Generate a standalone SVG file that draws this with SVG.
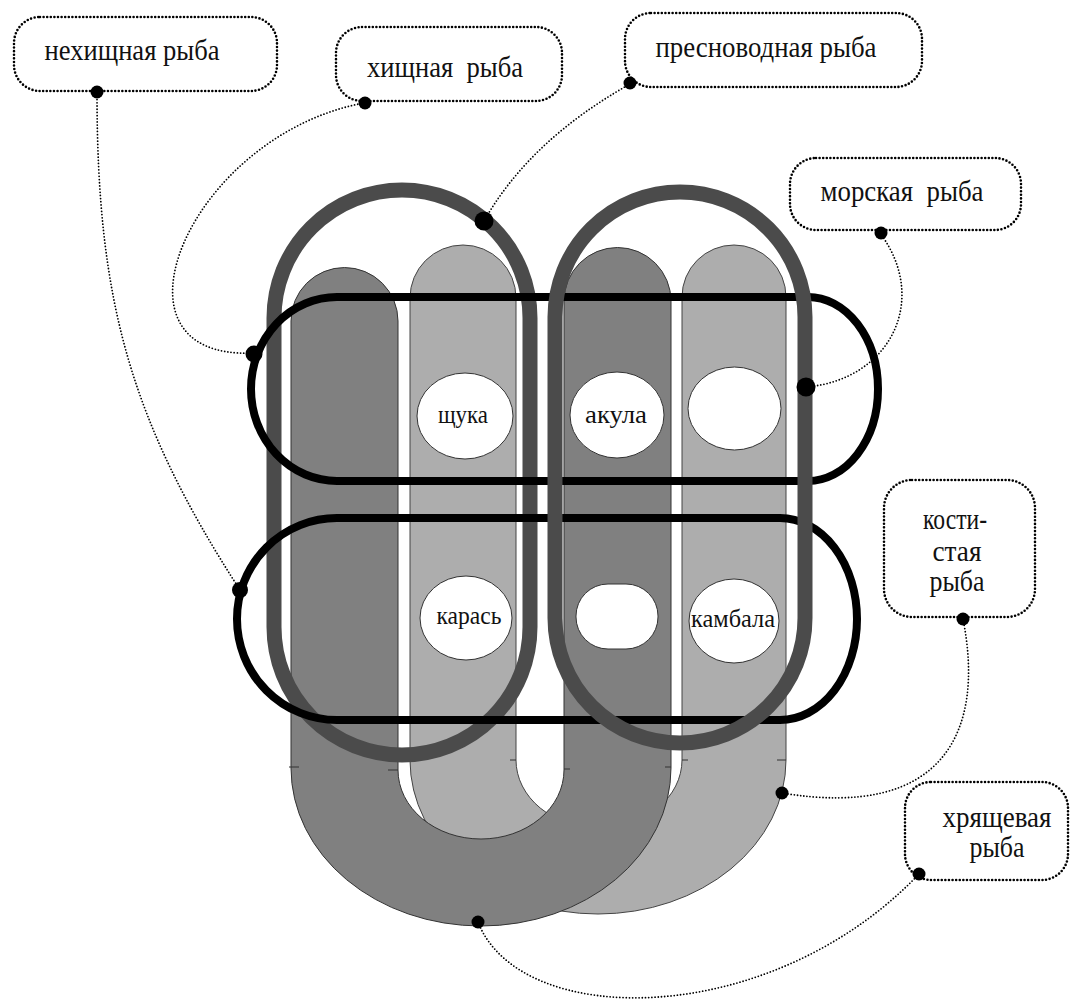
<svg xmlns="http://www.w3.org/2000/svg" width="1084" height="1004" viewBox="0 0 1084 1004">
  <style>
    .txt { font-family: "Liberation Serif", "Times New Roman", serif; fill: #111; }
    .lbl { font-size: 29px; text-anchor: middle; white-space: pre; }
    .in { font-size: 26px; text-anchor: middle; }
    .box { fill: #fff; stroke: #000; stroke-width: 2.6; stroke-dasharray: 0 3.6; stroke-linecap: round; }
    .link { fill: none; stroke: #000; stroke-width: 1.8; stroke-dasharray: 0 3.2; stroke-linecap: round; }
    .darkU { fill: #808080; stroke: #333; stroke-width: 1; }
    .lightU { fill: #adadad; stroke: #444; stroke-width: 1; }
    .hole { fill: #fff; stroke: #333; stroke-width: 1; }
    .ring { fill: none; stroke: #4b4b4b; stroke-width: 15; }
    .band { fill: none; stroke: #000; stroke-width: 8; }
    .tick { stroke: #333; stroke-width: 1; }
  </style>

  <!-- light U -->
  <g id="light-u">
    <path class="lightU" d="M410,298 A53,53 0 0 1 516,298 V760 A83,68 0 0 0 682,760 V297 A52,52 0 0 1 786,297 V760 A188,154 0 0 1 410,760 Z"/>
    <line class="tick" x1="510" y1="760" x2="516" y2="760"/>
    <line class="tick" x1="682" y1="760" x2="688" y2="760"/>
    <line class="tick" x1="777" y1="760" x2="786" y2="760"/>
  </g>

  <!-- dark U -->
  <g id="dark-u">
    <path class="darkU" d="M291,321 A53.5,53.5 0 0 1 398,321 V770 A83,69 0 0 0 564,770 V301 A53.5,53.5 0 0 1 671,301 V768 A190,158 0 0 1 291,768 Z"/>
    <line class="tick" x1="289" y1="767" x2="299" y2="767"/>
    <line class="tick" x1="388" y1="770" x2="398" y2="770"/>
    <line class="tick" x1="564" y1="769" x2="570" y2="769"/>
    <line class="tick" x1="665" y1="767" x2="671" y2="767"/>
  </g>

  <!-- fish cells -->
  <g id="cell-shchuka">
    <ellipse class="hole" cx="465" cy="416" rx="48" ry="43"/>
    <text class="txt in" x="463" y="423" textLength="50" lengthAdjust="spacingAndGlyphs">щука</text>
  </g>
  <g id="cell-akula">
    <ellipse class="hole" cx="617" cy="415" rx="47" ry="43"/>
    <text class="txt in" x="616" y="423" textLength="62" lengthAdjust="spacingAndGlyphs">акула</text>
  </g>
  <g id="cell-top-right">
    <ellipse class="hole" cx="734.5" cy="408.5" rx="46.5" ry="41.5"/>
  </g>
  <g id="cell-karas">
    <ellipse class="hole" cx="466" cy="618" rx="46" ry="42"/>
    <text class="txt in" x="469" y="624" textLength="65" lengthAdjust="spacingAndGlyphs">карась</text>
  </g>
  <g id="cell-bottom-mid">
    <rect class="hole" x="576" y="584" width="82" height="65" rx="32" ry="32"/>
  </g>
  <g id="cell-kambala">
    <ellipse class="hole" cx="734" cy="621" rx="45" ry="42"/>
    <text class="txt in" x="733" y="627" textLength="84" lengthAdjust="spacingAndGlyphs">камбала</text>
  </g>

  <!-- grey ring: freshwater (sits under the black bands) -->
  <g id="ring-fresh"><rect class="ring" x="274" y="190" width="256" height="565" rx="128" ry="128"/></g>

  <!-- black bands: predatory (top) and non-predatory (bottom) -->
  <g id="band-predatory"><path class="band" d="M337,297 H808 A70,92 0 0 1 808,481 H337 A86,92 0 0 1 337,297 Z"/></g>
  <g id="band-peaceful"><path class="band" d="M337,518 H780 A77,101 0 0 1 780,720 H337 A100,101 0 0 1 337,518 Z"/></g>

  <!-- grey ring: sea (sits over the black bands) -->
  <g id="ring-sea"><rect class="ring" x="555" y="192" width="250" height="551" rx="125" ry="125"/></g>

  <!-- callout leaders -->
  <g id="connectors">
    <path class="link" d="M97,93 C97,300 130,420 240,590"/>
    <path class="link" d="M364,103 C190,135 95,360 253,353"/>
    <path class="link" d="M630,84 Q530,140 484,221"/>
    <path class="link" d="M880,233 C930,300 890,380 806,387"/>
    <path class="link" d="M963,619 C985,730 945,820 782,793"/>
    <path class="link" d="M478,922 C520,1030 770,1030 919,874"/>
    <circle cx="240" cy="590" r="8"/>
    <circle cx="254" cy="354" r="8.5"/>
    <circle cx="484" cy="221" r="9.5"/>
    <circle cx="806" cy="387" r="9.5"/>
    <circle cx="782" cy="793" r="6.5"/>
    <circle cx="478" cy="922" r="6.5"/>
  </g>

  <!-- label boxes -->
  <g id="lbl-nonpredatory">
    <rect class="box" x="14" y="17" width="263" height="74" rx="26" ry="26"/>
    <text class="txt lbl" x="132" y="60" textLength="175" lengthAdjust="spacingAndGlyphs">нехищная рыба</text>
    <circle cx="97" cy="92" r="6.5"/>
  </g>
  <g id="lbl-predatory">
    <rect class="box" x="336" y="27" width="226" height="74" rx="26" ry="26"/>
    <text class="txt lbl" x="445" y="77" textLength="156" lengthAdjust="spacingAndGlyphs">хищная  рыба</text>
    <circle cx="365" cy="103" r="6.5"/>
  </g>
  <g id="lbl-freshwater">
    <rect class="box" x="625" y="13" width="297" height="74" rx="26" ry="26"/>
    <text class="txt lbl" x="766" y="57" textLength="221" lengthAdjust="spacingAndGlyphs">пресноводная рыба</text>
    <circle cx="630" cy="83" r="6.5"/>
  </g>
  <g id="lbl-sea">
    <rect class="box" x="790" y="158" width="231" height="72" rx="26" ry="26"/>
    <text class="txt lbl" x="902" y="201" textLength="163" lengthAdjust="spacingAndGlyphs">морская  рыба</text>
    <circle cx="881" cy="233" r="6.5"/>
  </g>
  <g id="lbl-bony">
    <rect class="box" x="884" y="480" width="151" height="137" rx="28" ry="28"/>
    <text class="txt lbl" x="955" y="529" textLength="64" lengthAdjust="spacingAndGlyphs">кости-</text>
    <text class="txt lbl" x="957" y="561" textLength="49" lengthAdjust="spacingAndGlyphs">стая</text>
    <text class="txt lbl" x="957" y="591" textLength="55" lengthAdjust="spacingAndGlyphs">рыба</text>
    <circle cx="963" cy="619" r="6.5"/>
  </g>
  <g id="lbl-cartilaginous">
    <rect class="box" x="905" y="782" width="163" height="98" rx="26" ry="26"/>
    <text class="txt lbl" x="997" y="827" textLength="109" lengthAdjust="spacingAndGlyphs">хрящевая</text>
    <text class="txt lbl" x="997" y="857" textLength="55" lengthAdjust="spacingAndGlyphs">рыба</text>
    <circle cx="919" cy="874" r="6.5"/>
  </g>
</svg>
